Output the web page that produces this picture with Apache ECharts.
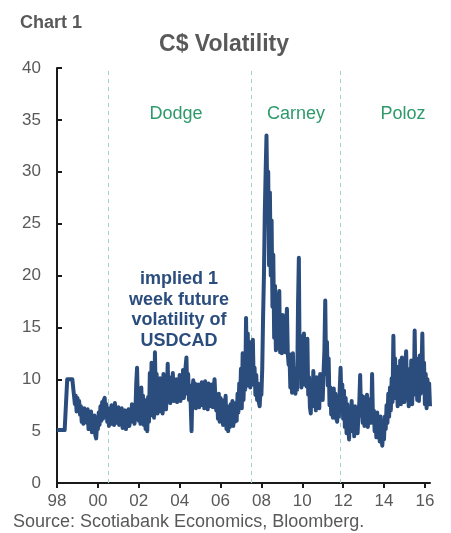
<!DOCTYPE html>
<html>
<head>
<meta charset="utf-8">
<title>C$ Volatility</title>
<script src="https://cdn.jsdelivr.net/npm/echarts@6/dist/echarts.min.js"></script>
<style>
  html, body { margin: 0; padding: 0; background: #fff; }
  #chart { width: 451px; height: 533px; }
</style>
</head>
<body>
<div id="chart"></div>
<script>
  // implied 1 week USDCAD vol, two readings per month
  const v1998 = [5.1, 5.1, 5.1, 5.1, 5.1, 5.1, 5.1, 5.1, 5.1, 5.1, 5.1, 5.1,
                 10, 10, 10, 10, 10, 10, 10, 10, 10, 7.6, 8.4, 6.9];
  const v1999 = [8.2, 7.0, 7.9, 6.6, 7.4, 5.9, 6.9, 5.7, 7.2, 6.0, 6.6, 5.8,
                 7.1, 5.2, 6.8, 5.6, 6.9, 4.9, 6.3, 5.0, 6.5, 4.6, 4.3, 5.6];
  const v2000 = [5.2, 6.8, 5.6, 7.4, 6.0, 7.8, 6.2, 8.0, 8.2, 6.4, 7.6, 5.9,
                 7.2, 5.5, 6.9, 6.0, 7.5, 5.7, 7.0, 5.6, 7.7, 6.1, 6.8, 5.8];
  const v2001 = [7.3, 5.6, 6.9, 5.9, 7.2, 5.3, 6.6, 5.6, 7.0, 5.2, 6.8, 5.8,
                 7.1, 5.5, 6.4, 5.9, 7.6, 6.0, 7.3, 5.7, 6.5, 9.5, 11.1, 7.6];
  const v2002 = [6.0, 8.8, 5.7, 9.2, 6.4, 8.4, 5.6, 8.0, 5.2, 7.6, 5.0, 8.3,
                 5.9, 10.6, 6.5, 11.6, 7.4, 10.4, 6.3, 12.6, 8.2, 10.5, 6.7, 9.8];
  const v2003 = [6.9, 10.1, 7.3, 9.4, 6.7, 10.5, 7.6, 9.0, 7.1, 8.8, 11.5, 8.0,
                 10.2, 7.7, 9.6, 8.3, 10.6, 7.9, 9.2, 8.1, 10.0, 7.8, 9.4, 8.4];
  const v2004 = [10.4, 7.9, 9.8, 8.4, 10.9, 8.2, 9.6, 11.2, 12.1, 8.6, 10.5, 8.0,
                 9.4, 7.6, 5.0, 8.8, 9.9, 7.5, 9.6, 7.2, 9.3, 7.6, 9.5, 7.3];
  const v2005 = [9.4, 7.5, 9.7, 7.9, 9.3, 7.2, 9.8, 7.6, 9.1, 7.1, 9.6, 7.8,
                 9.2, 7.4, 9.5, 7.3, 9.0, 10.0, 8.2, 7.0, 8.5, 6.2, 8.6, 5.9];
  const v2006 = [8.2, 6.1, 8.0, 5.6, 7.7, 5.8, 8.4, 5.2, 7.4, 5.0, 7.0, 5.4,
                 7.6, 5.6, 7.9, 5.5, 7.2, 5.9, 7.7, 6.0, 8.6, 6.8, 9.6, 7.6];
  const v2007 = [11.0, 7.2, 12.5, 8.0, 10.6, 9.0, 15.9, 9.4, 14.4, 10.0, 13.6, 9.2,
                 12.8, 10.4, 13.8, 9.5, 11.1, 8.5, 10.4, 8.0, 9.6, 7.8, 7.4, 9.0];
  const v2008 = [8.5, 11.0, 16.0, 20.0, 26.0, 30.0, 33.5, 27.0, 30.0, 21.0, 28.0, 20.0,
                 25.3, 17.0, 22.0, 14.0, 19.0, 12.8, 16.5, 13.0, 17.5, 18.5, 12.6, 15.5];
  const v2009 = [12.5, 16.2, 13.0, 15.5, 12.6, 14.8, 16.8, 12.5, 11.4, 12.4, 9.2, 11.8,
                 8.7, 12.5, 9.5, 11.0, 8.6, 10.6, 9.0, 17.0, 21.7, 10.5, 14.2, 9.2];
  const v2010 = [13.5, 9.5, 14.4, 9.8, 12.8, 9.3, 13.9, 8.5, 10.2, 7.3, 6.7, 9.8,
                 7.4, 10.8, 7.8, 9.5, 7.0, 10.2, 7.6, 9.8, 7.2, 10.5, 8.0, 9.6];
  const v2011 = [8.0, 10.6, 12.8, 17.6, 10.5, 13.6, 9.4, 12.0, 7.5, 9.2, 6.6, 8.9,
                 6.3, 9.1, 6.8, 8.6, 6.2, 5.9, 8.2, 6.4, 9.0, 11.1, 7.8, 9.5];
  const v2012 = [6.2, 8.9, 5.4, 8.2, 4.8, 7.6, 5.6, 4.2, 7.0, 5.0, 7.9, 5.5,
                 6.8, 4.5, 7.4, 5.2, 7.0, 4.8, 6.6, 7.8, 10.4, 6.5, 8.4, 5.8];
  const v2013 = [8.3, 5.5, 7.8, 5.9, 8.5, 5.4, 7.2, 6.0, 8.1, 5.8, 10.5, 6.2,
                 7.0, 5.0, 6.6, 4.4, 6.8, 4.5, 6.2, 4.0, 6.4, 4.2, 3.6, 5.2];
  const v2014 = [4.2, 6.4, 5.2, 7.5, 5.8, 8.6, 6.4, 9.2, 7.0, 10.1, 7.8, 14.2,
                 9.0, 12.0, 8.2, 11.2, 7.4, 10.8, 8.4, 11.8, 7.6, 12.1, 8.6, 10.4];
  const v2015 = [7.8, 11.4, 12.7, 8.4, 11.0, 7.4, 10.6, 8.2, 11.8, 7.6, 9.8, 8.5,
                 14.7, 9.4, 12.0, 8.0, 11.5, 7.9, 12.3, 8.6, 10.8, 14.4, 9.2, 11.6];
  const v2016 = [7.6, 10.5, 7.2, 10.0, 7.8, 9.6, 7.4];

  const years = [1998, 1999, 2000, 2001, 2002, 2003, 2004, 2005, 2006, 2007,
                 2008, 2009, 2010, 2011, 2012, 2013, 2014, 2015, 2016];
  const yearValues = [v1998, v1999, v2000, v2001, v2002, v2003, v2004, v2005, v2006, v2007,
                      v2008, v2009, v2010, v2011, v2012, v2013, v2014, v2015, v2016];

  const xTicks = [1998, 2000, 2002, 2004, 2006, 2008, 2010, 2012, 2014, 2016];
  const yTicks = [0, 5, 10, 15, 20, 25, 30, 35, 40];
  // governor changes (dashed lines)
  const govLines = [2000.51, 2007.49, 2011.84];
  const govNames = ['Dodge', 'Carney', 'Poloz'];

  let volData = [];
  years.forEach(function (y, k) {
    yearValues[k].forEach(function (v, i) {
      volData.push([y + i / 24, v]);
    });
  });

  const grey = '#595959';
  const navy = '#2b4d7e';
  const green = '#2e9a6c';
  const font = "'Liberation Sans', Arial, sans-serif";

  let myChart = echarts.init(document.getElementById('chart'), null, { renderer: 'canvas' });
  myChart.setOption({
    animation: false,
    backgroundColor: '#fff',
    grid: { left: 57, right: 21, top: 68, bottom: 50, containLabel: false },
    xAxis: {
      type: 'value',
      min: 1998,
      max: 2016.25,
      splitLine: { show: false },
      axisLine: { show: true, onZero: false, lineStyle: { color: '#1a1a1a', width: 2 } },
      axisTick: { show: true, inside: false, length: 5, customValues: xTicks,
        lineStyle: { color: '#1a1a1a', width: 2 } },
      axisLabel: {
        customValues: xTicks,
        margin: 10,
        color: grey,
        fontSize: 17,
        fontFamily: font,
        formatter: function (v) { return String(Math.round(v) % 100).padStart(2, '0'); }
      }
    },
    yAxis: {
      type: 'value',
      min: 0,
      max: 40,
      interval: 5,
      splitLine: { show: false },
      axisLine: { show: true, lineStyle: { color: '#1a1a1a', width: 2 } },
      axisTick: { show: true, inside: true, length: 5, lineStyle: { color: '#1a1a1a', width: 2 } },
      axisLabel: {
        margin: 16,
        color: grey,
        fontSize: 17,
        fontFamily: font,
        formatter: function (v) { return yTicks.indexOf(v) >= 0 ? String(v) : ''; }
      }
    },
    series: [{
      name: 'USDCAD 1w implied vol',
      type: 'line',
      data: volData,
      showSymbol: false,
      symbol: 'none',
      sampling: null,
      lineStyle: { color: navy, width: 4, join: 'round' },
      z: 3,
      markLine: {
        silent: true,
        symbol: ['none', 'none'],
        label: { show: false },
        lineStyle: { color: '#9ed3c6', type: [4, 4], width: 1 },
        data: govLines.map(function (g) { return { xAxis: g }; }),
        z: 1
      }
    }],
    graphic: [
      { type: 'text', left: 20, top: 14,
        style: { text: 'Chart 1', fill: grey, font: 'bold 18px ' + font } },
      { type: 'text', x: 224, y: 45,
        style: { text: 'C$ Volatility', fill: grey, font: 'bold 23px ' + font,
          textAlign: 'center', textVerticalAlign: 'middle' } },
      { type: 'text', x: 176, y: 114.5,
        style: { text: govNames[0], fill: green, font: '18px ' + font,
          textAlign: 'center', textVerticalAlign: 'middle' } },
      { type: 'text', x: 296, y: 114.5,
        style: { text: govNames[1], fill: green, font: '18px ' + font,
          textAlign: 'center', textVerticalAlign: 'middle' } },
      { type: 'text', x: 403, y: 114.5,
        style: { text: govNames[2], fill: green, font: '18px ' + font,
          textAlign: 'center', textVerticalAlign: 'middle' } },
      { type: 'text', x: 179, y: 310, z: 10,
        style: { text: 'implied 1\nweek future\nvolatility of\nUSDCAD', fill: navy,
          font: 'bold 18px ' + font, lineHeight: 20.5,
          textAlign: 'center', textVerticalAlign: 'middle' } },
      { type: 'text', x: 13, y: 522,
        style: { text: 'Source: Scotiabank Economics, Bloomberg.', fill: grey,
          font: '18px ' + font, textVerticalAlign: 'middle' } }
    ]
  });
</script>
</body>
</html>
